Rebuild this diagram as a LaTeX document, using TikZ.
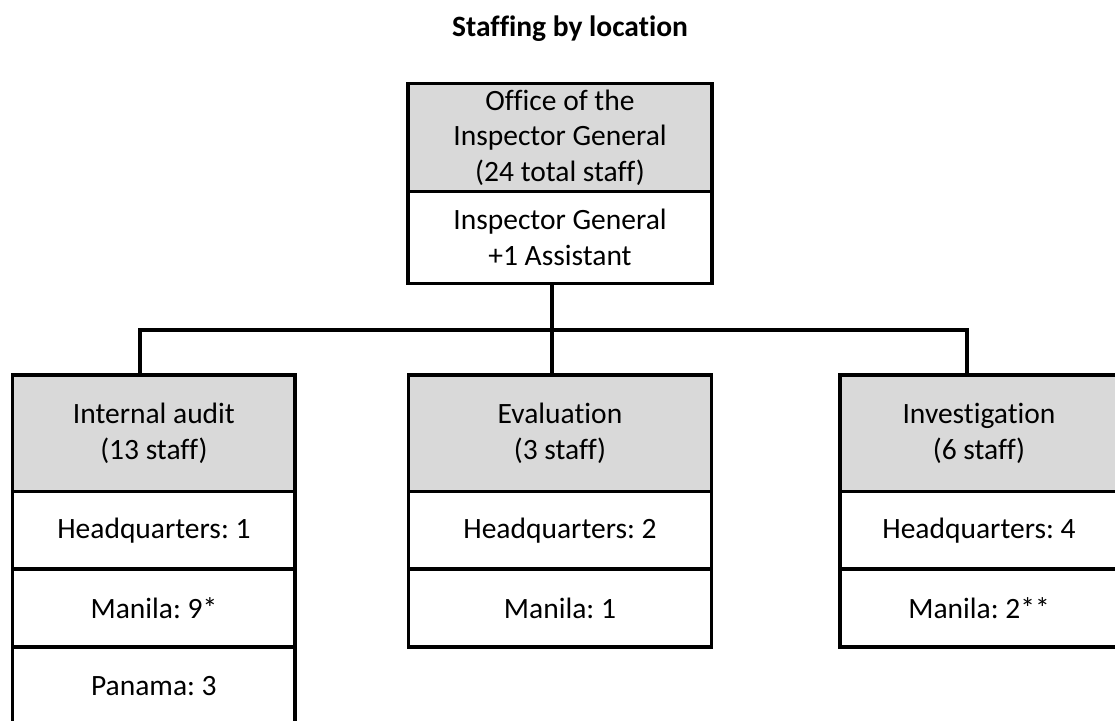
\documentclass[tikz,border=0pt]{standalone}
\usepackage{fontspec}
\setmainfont{Carlito}[Ligatures=NoCommon]
\definecolor{hdr}{RGB}{217,217,217}
\frenchspacing
\begin{document}
\begin{tikzpicture}[x=1pt,y=-1pt,
  cell/.style={draw=black, line width=3.3pt, inner sep=0pt, align=center,
    font=\fontsize{29.5}{35.5}\selectfont, text=black},
  hcell/.style={cell, fill=hdr},
  wire/.style={draw=black, line width=3.3pt, line join=miter}]
\useasboundingbox (0,0) rectangle (1115,720);
% title
\node[font=\fontsize{29.5}{35}\selectfont\bfseries, anchor=base, inner sep=0pt] (title) at (570,36.5) {Staffing by location};
% top box
\node[hcell, minimum width=304pt, minimum height=108.5pt] (th) at (560,137.5) {Office of the\\Inspector General\\(24 total staff)};
\node[cell, fill=white, minimum width=304pt, minimum height=91.5pt] (tw) at (560,237.5) {Inspector General\\+1 Assistant};
% left column
\node[hcell, minimum width=282.3pt, minimum height=116.7pt] (ih) at (153.9,433.3) {Internal audit\\(13 staff)};
\node[cell, minimum width=282.3pt, minimum height=77.3pt] (i1) at (153.9,530.3) {Headquarters: 1};
\node[cell, minimum width=282.3pt, minimum height=78pt] (i2) at (153.9,608) {Manila: 9*};
\node[cell, minimum width=282.3pt, minimum height=78pt] (i3) at (153.9,686) {Panama: 3};
% middle column
\node[hcell, minimum width=303.4pt, minimum height=116.7pt] (eh) at (560,433.3) {Evaluation\\(3 staff)};
\node[cell, minimum width=303.4pt, minimum height=77.3pt] (e1) at (560,530.3) {Headquarters: 2};
\node[cell, minimum width=303.4pt, minimum height=78pt] (e2) at (560,608) {Manila: 1};
% right column
\node[hcell, minimum width=278pt, minimum height=116.7pt] (vh) at (979,433.3) {Investigation\\(6 staff)};
\node[cell, minimum width=278pt, minimum height=77.3pt] (v1) at (979,530.3) {Headquarters: 4};
\node[cell, minimum width=278pt, minimum height=78pt] (v2) at (979,608) {Manila: 2**};
% connectors
\coordinate (jc) at (552,330);
\coordinate (jl) at (140,330);
\coordinate (jr) at (967,330);
\draw[wire] (tw.south -| jc) -- (jc);
\draw[wire] (ih.north -| jl) -- (jl) -- (jr) -- (vh.north -| jr);
\draw[wire] (jc) -- (eh.north -| jc);
\end{tikzpicture}
\end{document}
